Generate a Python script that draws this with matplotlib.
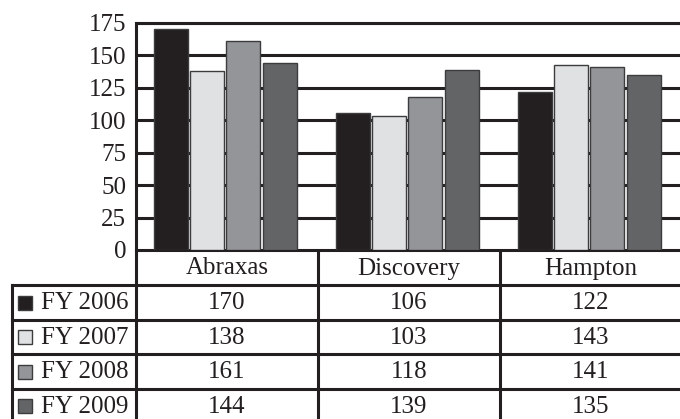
import matplotlib
matplotlib.use("Agg")
import matplotlib.pyplot as plt
import numpy as np

categories = ["Abraxas", "Discovery", "Hampton"]
series_names = ["FY 2006", "FY 2007", "FY 2008", "FY 2009"]
fy2006 = [170, 106, 122]
fy2007 = [138, 103, 143]
fy2008 = [161, 118, 141]
fy2009 = [144, 139, 135]
yticks = [0, 25, 50, 75, 100, 125, 150, 175]

series_values = [fy2006, fy2007, fy2008, fy2009]
colors = ["#231f20", "#e0e1e3", "#939598", "#636466"]
ink = "#231f20"
edge = "#3c3c3e"

plt.rcParams['font.family'] = ['Liberation Serif', 'DejaVu Serif']
FS = 18

W, H = 680, 419
fig = plt.figure(figsize=(W / 100, H / 100), dpi=100)

# geometry in pixels
plot_left, plot_right = 136, 682
plot_top, plot_bottom = 23, 250
ax = fig.add_axes([plot_left / W, 1 - plot_bottom / H,
                   (plot_right - plot_left) / W, (plot_bottom - plot_top) / H])

x = np.arange(len(categories))
step = 0.2
bw = 0.186
for i, (vals, c) in enumerate(zip(series_values, colors)):
    ax.bar(x + (i - 1.5) * step - 0.01, vals, width=bw, color=c,
           edgecolor=edge, linewidth=1.0, zorder=3)

ax.set_xlim(-0.5, len(categories) - 0.5)
ax.set_ylim(0, 175)
ax.set_yticks(yticks)
ax.set_yticklabels([str(t) for t in yticks], fontsize=FS, color=ink)
ax.tick_params(axis='y', length=0, pad=7)
ax.set_xticks([])
for t in yticks[1:]:
    ax.axhline(t, color=ink, linewidth=2.2, zorder=1)
for s in ['left', 'bottom', 'top']:
    ax.spines[s].set_color(ink)
    ax.spines[s].set_linewidth(2.2)
ax.spines['right'].set_visible(False)

# table below
tab_h = H - plot_bottom
tab = fig.add_axes([0, 0, 1, tab_h / H])
tab.set_xlim(0, W)
tab.set_ylim(tab_h, 0)
tab.axis('off')

col_edges = [136, 318, 500, 682]
label_left = 12
row_h = 34.5
header_h = 35
rows_y = [header_h + k * row_h for k in range(len(series_names) + 1)]

lw = 2.2
for xe in col_edges:
    tab.plot([xe, xe], [0, tab_h + 5], color=ink, lw=lw, clip_on=False, solid_capstyle='butt')
tab.plot([label_left, label_left], [header_h, tab_h + 5], color=ink, lw=lw, clip_on=False)
for yy in rows_y[:-1]:
    tab.plot([label_left, col_edges[-1]], [yy, yy], color=ink, lw=lw, clip_on=False)

for j, cat in enumerate(categories):
    xc = (col_edges[j] + col_edges[j + 1]) / 2
    tab.text(xc, header_h / 2 + 1, cat, ha='center', va='center', fontsize=FS, color=ink)

for i, (name, vals, c) in enumerate(zip(series_names, series_values, colors)):
    yc = rows_y[i] + row_h / 2 + 1
    tab.add_patch(plt.Rectangle((18, yc - 7.5), 14, 14, facecolor=c, edgecolor=edge, lw=1.0))
    tab.text(41, yc, name, ha='left', va='center', fontsize=FS, color=ink)
    for j, v in enumerate(vals):
        xc = (col_edges[j] + col_edges[j + 1]) / 2
        tab.text(xc, yc, str(v), ha='center', va='center', fontsize=FS, color=ink)

fig.savefig("out.png", dpi=100)
